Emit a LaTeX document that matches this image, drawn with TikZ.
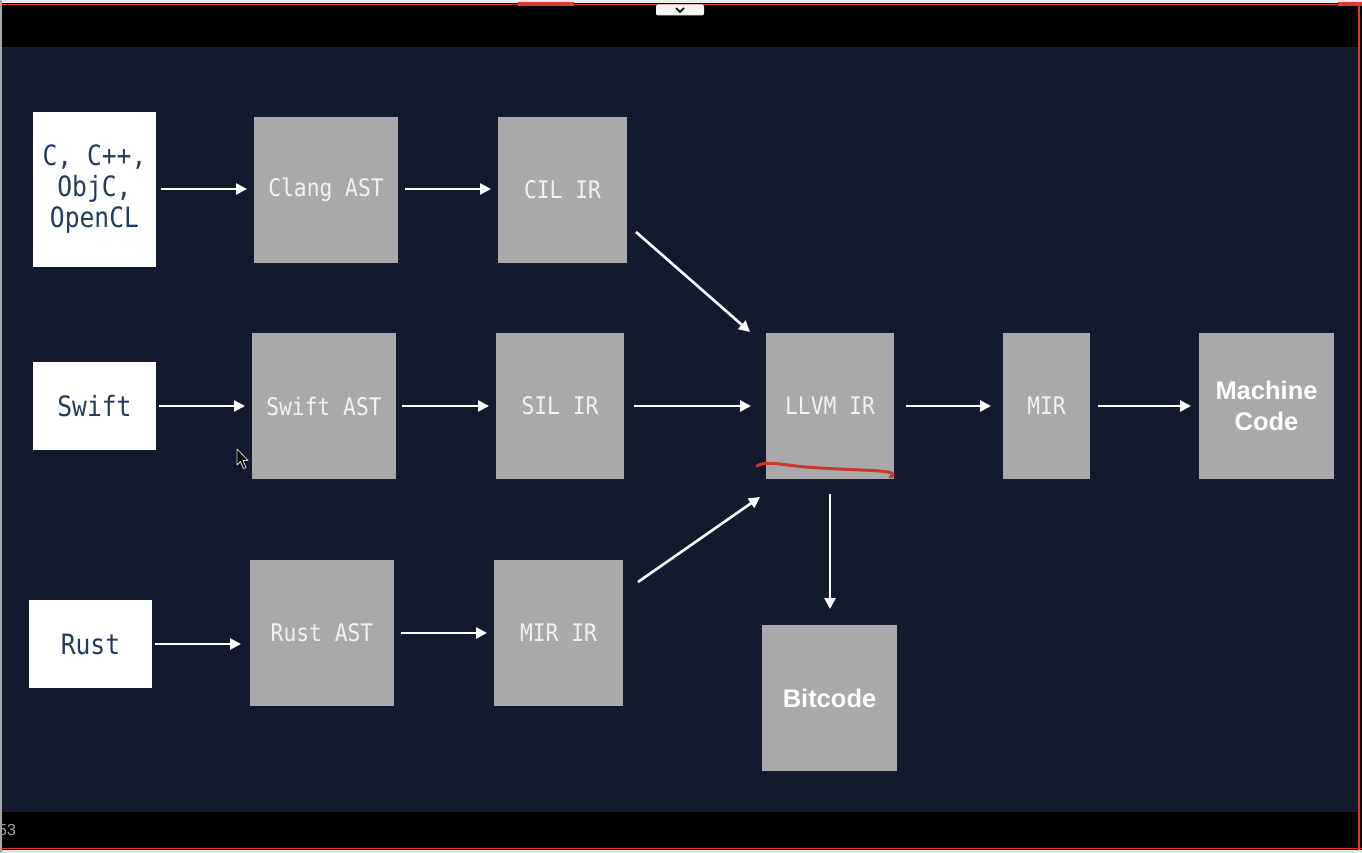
\documentclass[tikz,border=0pt]{standalone}
\usepackage{fontspec}
\usetikzlibrary{arrows.meta,calc}
\newfontfamily\monof[FakeStretch=0.88]{DejaVu Sans Mono}
\newfontfamily\helv{Liberation Sans}
\definecolor{slidebg}{HTML}{141A2D}
\definecolor{boxgray}{HTML}{A9A8AA}
\definecolor{inktext}{HTML}{243C5C}
\definecolor{lighttext}{HTML}{F2F2F2}
\definecolor{penred}{HTML}{C73A2C}
\definecolor{uired}{HTML}{E03A30}
\tikzset{
  srcbox/.style={fill=white, draw=none, inner sep=0pt, outer sep=0pt, align=center,
    text=inktext, font=\monof\fontsize{28}{31}\selectfont},
  irbox/.style={fill=boxgray, draw=none, inner sep=0pt, outer sep=0pt, align=center,
    text=lighttext, font=\monof\fontsize{24.2}{29}\selectfont},
  boldbox/.style={fill=boxgray, draw=none, inner sep=0pt, outer sep=0pt, align=center,
    text=white, font=\helv\bfseries\fontsize{25.5}{31}\selectfont},
  flow/.style={draw=white, line width=2.6pt, -{Triangle[length=11pt,width=11pt]}},
}
\begin{document}
\begin{tikzpicture}[x=1pt,y=-1pt]
\useasboundingbox (0,0) rectangle (1362,853);
% screen background
\fill[black] (0,0) rectangle (1362,853);
\fill[slidebg] (2,47) rectangle (1358,812);
% window chrome
\fill[white!85!gray] (0,0) rectangle (1362,3);
\draw[uired, line width=0.8pt] (0,4) -- (1362,4);
\fill[uired] (518,2) rectangle (574,6);
\fill[uired] (1338,2) rectangle (1362,6);
\draw[uired, line width=1.5pt] (1359,4) -- (1359,853);
\draw[uired, line width=0.8pt] (0,848) -- (1362,848);
\fill[white!80!gray] (0,849.5) rectangle (1362,853);
\fill[gray!70] (0,0) rectangle (1.5,853);
\node[fill=white!92!gray, rounded corners=2pt, minimum width=48pt, minimum height=11pt, inner sep=0pt] (tab) at (680,10) {};
\draw[black, line width=1.6pt] ($(tab.center)+(-4,-2)$) -- ($(tab.center)+(0,2)$) -- ($(tab.center)+(4,-2)$);
\node[anchor=west, inner sep=0pt, text=gray!75, font=\helv\fontsize{16}{16}\selectfont] (pagenum) at (-2,830) {53};

% source boxes
\node[srcbox, minimum width=123pt, minimum height=155pt] (c) at (94.5,189.5) {C, C++,\\ObjC,\\OpenCL};
\node[srcbox, minimum width=123pt, minimum height=88pt] (swift) at (94.5,406) {Swift};
\node[srcbox, minimum width=123pt, minimum height=88pt] (rust) at (90.5,644) {Rust};

% IR boxes
\node[irbox, minimum width=144pt, minimum height=146pt] (clang) at (326,190) {Clang AST};
\node[irbox, minimum width=129pt, minimum height=146pt] (cil) at (562.5,190) {CIL IR};
\node[irbox, minimum width=144pt, minimum height=146pt] (swiftast) at (324,406) {Swift AST};
\node[irbox, minimum width=128pt, minimum height=146pt] (sil) at (560,406) {SIL IR};
\node[irbox, minimum width=128pt, minimum height=146pt] (llvm) at (830,406) {LLVM IR};
\node[irbox, minimum width=87pt, minimum height=146pt] (mir) at (1046.5,406) {MIR};
\node[boldbox, minimum width=135pt, minimum height=146pt] (mc) at (1266.5,406) {Machine\\Code};
\node[irbox, minimum width=144pt, minimum height=146pt] (rustast) at (322,633) {Rust AST};
\node[irbox, minimum width=129pt, minimum height=146pt] (mirir) at (558.5,633) {MIR IR};
\node[boldbox, minimum width=135pt, minimum height=146pt] (bitcode) at (829.5,698) {Bitcode};

% connectors
\draw[flow, shorten <=5pt, shorten >=7pt] (c.east |- 0,189) -- (clang.west |- 0,189);
\draw[flow, shorten <=7pt, shorten >=7pt] (clang.east |- 0,189) -- (cil.west |- 0,189);
\draw[flow] ($(cil.south east)+(9,-31)$) -- ($(llvm.north west)+(-16,-1)$);
\draw[flow, shorten <=3pt, shorten >=7pt] (swift.east) -- (swiftast.west);
\draw[flow, shorten <=6pt, shorten >=7pt] (swiftast.east) -- (sil.west);
\draw[flow, shorten <=10pt, shorten >=15pt] (sil.east) -- (llvm.west);
\draw[flow, shorten <=12pt, shorten >=12pt] (llvm.east) -- (mir.west);
\draw[flow, shorten <=8pt, shorten >=8pt] (mir.east) -- (mc.west);
\draw[flow, shorten <=3pt, shorten >=9pt] (rust.east) -- (rust.east -| rustast.west);
\draw[flow, shorten <=7pt, shorten >=7pt] (rustast.east) -- (mirir.west);
\draw[flow] ($(mirir.north east)+(15,22)$) -- ($(llvm.south west)+(-6,18)$);
\draw[flow, shorten <=15pt, shorten >=16pt] (llvm.south) -- (llvm.south |- bitcode.north);

% hand-drawn red underline
\draw[penred, line width=3pt, line cap=round] (757,466) .. controls (764,461) and (778,464) .. (800,466.5) .. controls (840,470) and (878,469.5) .. (890,472.5) .. controls (894,473.5) and (894,476) .. (890,477);

% mouse pointer
\draw[white!70!gray, fill=black, line width=0.8pt, line join=round] (237,449) -- (237,465) -- (240.5,461.5) -- (243.5,468.5) -- (246,467.5) -- (243,460.5) -- (248,460.5) -- cycle;
\end{tikzpicture}
\end{document}
